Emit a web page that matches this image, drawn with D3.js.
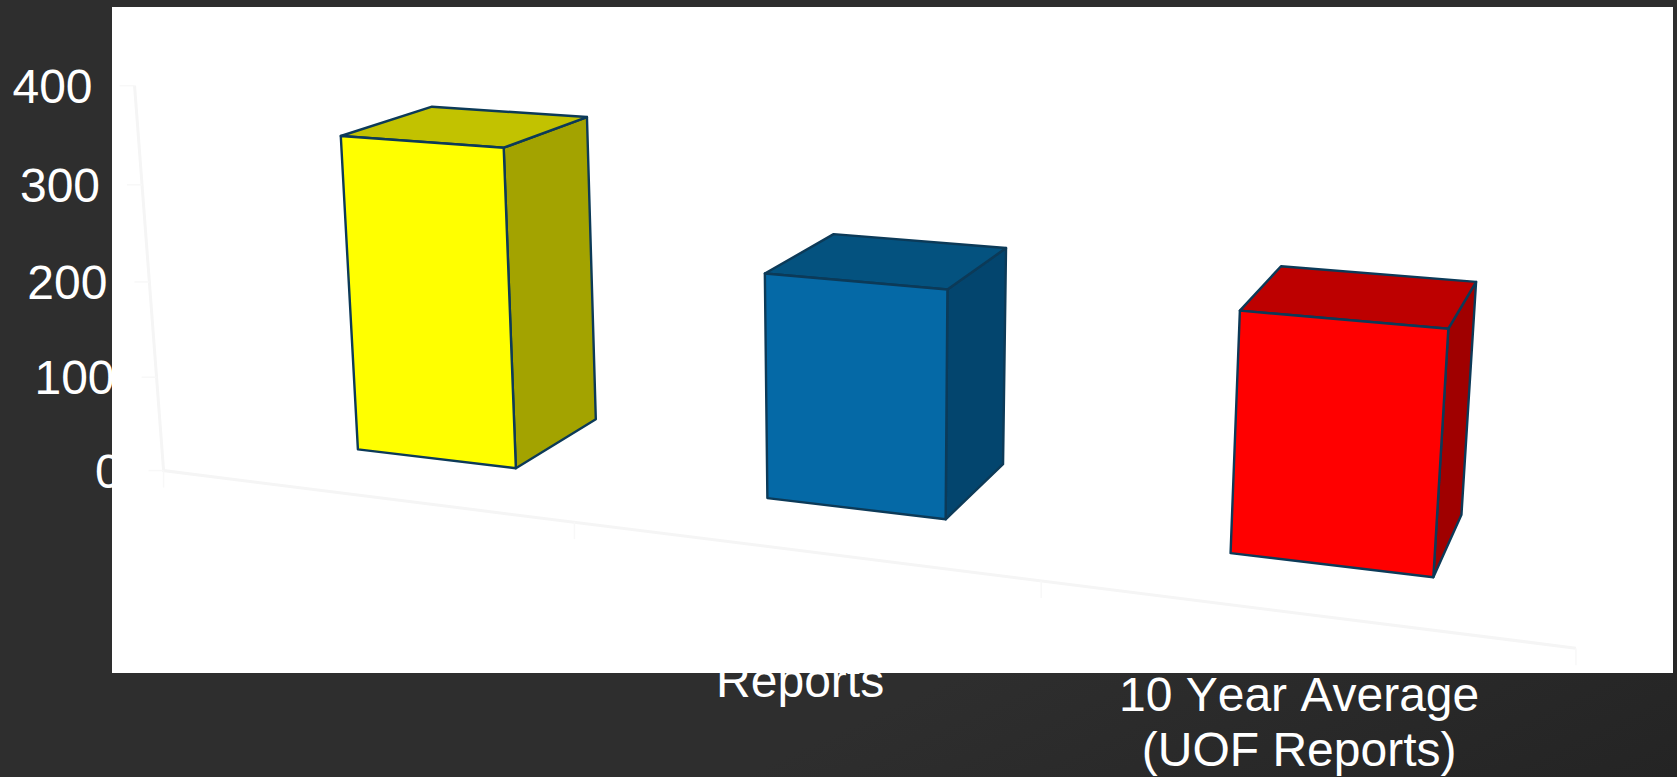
<!DOCTYPE html>
<html>
<head>
<meta charset="utf-8">
<script src="https://cdnjs.cloudflare.com/ajax/libs/d3/7.8.5/d3.min.js"></script>
<style>
html,body{margin:0;padding:0;background:#2e2e2e;overflow:hidden}
svg{display:block}
text{font-family:"Liberation Sans",Arial,sans-serif;fill:#fff;font-kerning:none}
</style>
</head>
<body>
<svg id="chart" width="1677" height="777"></svg>
<script>
// ---- data -------------------------------------------------------------
const categories = ["Category 1", "Category 2", "Category 3"];
const values = [336, 230, 234];
const valueTicks = [0, 100, 200, 300, 400];
const categoryLabelLines = [[], ["Reports"], ["10 Year Average", "(UOF Reports)"]];
const frontColors = ["#ffff00", "#0569a6", "#ff0000"];
const topColors = ["#c2c200", "#04527f", "#bd0000"];
const sideColors = ["#a3a300", "#03456e", "#a00000"];

// ---- layout -----------------------------------------------------------
const W = 1677, H = 777;
const panel = {x: 112, y: 7, w: 1561, h: 666};
const fontSize = 48, lineHeight = 54.6;
const labelDrop = [0, 146, 98];
const barDepth = [0.295, 0.71];

// three-point perspective: image of the origin and of the three vanishing points
const origin = [163.6, 470.6];
const vpX = [-6292, -341];
const vpV = [873, 9871];
const vpZ = [1850, -348];

const xAxis = d3.scaleLinear().domain([0, 3]).range([0, -0.1795]);
const yAxis = d3.scaleLinear().domain([0, 400]).range([0, -0.03934]);
const zAxis = d3.scaleLinear().domain([0, 1]).range([0, 0.154]);
const band = d3.scaleBand().domain(d3.range(categories.length))
  .range([0.0195, 3.0045]).paddingInner(0.6).paddingOuter(0.3);

function project(X, V, Z) {
  const a = xAxis(X), b = yAxis(V), c = zAxis(Z), s = 1 + a + b + c;
  return [0, 1].map(i => (origin[i] + a * vpX[i] + b * vpV[i] + c * vpZ[i]) / s);
}

const svg = d3.select("#chart");
const line = d3.line();
const poly = pts => line(pts) + "Z";

// ---- background -------------------------------------------------------
const defs = svg.append("defs");
const grad = defs.append("linearGradient").attr("id", "bg")
  .attr("x1", "0").attr("y1", "0").attr("x2", "1").attr("y2", "1");
grad.append("stop").attr("offset", "0.72").attr("stop-color", "#2e2e2e");
grad.append("stop").attr("offset", "1").attr("stop-color", "#242424");
svg.append("rect").attr("width", W).attr("height", H).attr("fill", "url(#bg)");

// ---- labels (underneath the white panel, which clips them) ------------
const tickLen = 15, labelGap = 27;
svg.append("g").selectAll("text").data(valueTicks).join("text")
  .attr("x", d => project(0, d, 0)[0] - tickLen - labelGap)
  .attr("y", d => project(0, d, 0)[1] + 17)
  .attr("text-anchor", "end").attr("font-size", fontSize)
  .text(d => d);

categories.forEach((c, i) => {
  const p = project(i + 0.5, 0, 0);
  categoryLabelLines[i].forEach((t, k) => {
    svg.append("text")
      .attr("x", p[0]).attr("y", p[1] + labelDrop[i] + k * lineHeight)
      .attr("text-anchor", "middle").attr("font-size", fontSize)
      .text(t);
  });
});

// ---- panel ------------------------------------------------------------
svg.append("rect").attr("x", panel.x).attr("y", panel.y)
  .attr("width", panel.w).attr("height", panel.h).attr("fill", "#ffffff");

// ---- axes -------------------------------------------------------------
const axisG = svg.append("g").attr("fill", "none").attr("stroke", "#f5f5f5");
axisG.append("path").attr("stroke-width", 3)
  .attr("d", line([project(0, 400, 0), project(0, 0, 0), project(3, 0, 0)]));
axisG.selectAll(".vt").data(valueTicks).join("path").attr("class", "vt")
  .attr("stroke-width", 1.5).attr("stroke", "#f8f8f8")
  .attr("d", d => { const p = project(0, d, 0); return line([[p[0] - tickLen, p[1]], p]); });
axisG.selectAll(".ct").data(d3.range(4)).join("path").attr("class", "ct")
  .attr("stroke-width", 1.5).attr("stroke", "#f8f8f8")
  .attr("d", d => { const p = project(d, 0, 0); return line([p, [p[0], p[1] + 17]]); });

// ---- bars -------------------------------------------------------------
const bars = svg.append("g").selectAll("g").data(values).join("g")
  .attr("stroke", "#0c3a58").attr("stroke-width", 2.4).attr("stroke-linejoin", "round");

const corners = (d, i) => {
  const x0 = band(i), x1 = x0 + band.bandwidth(), [z0, z1] = barDepth;
  return {
    front: [project(x0, d, z0), project(x1, d, z0), project(x1, 0, z0), project(x0, 0, z0)],
    top: [project(x0, d, z0), project(x0, d, z1), project(x1, d, z1), project(x1, d, z0)],
    side: [project(x1, d, z0), project(x1, d, z1), project(x1, 0, z1), project(x1, 0, z0)]
  };
};
bars.append("path").attr("fill", (d, i) => sideColors[i]).attr("d", (d, i) => poly(corners(d, i).side));
bars.append("path").attr("fill", (d, i) => topColors[i]).attr("d", (d, i) => poly(corners(d, i).top));
bars.append("path").attr("fill", (d, i) => frontColors[i]).attr("d", (d, i) => poly(corners(d, i).front));
</script>
</body>
</html>
